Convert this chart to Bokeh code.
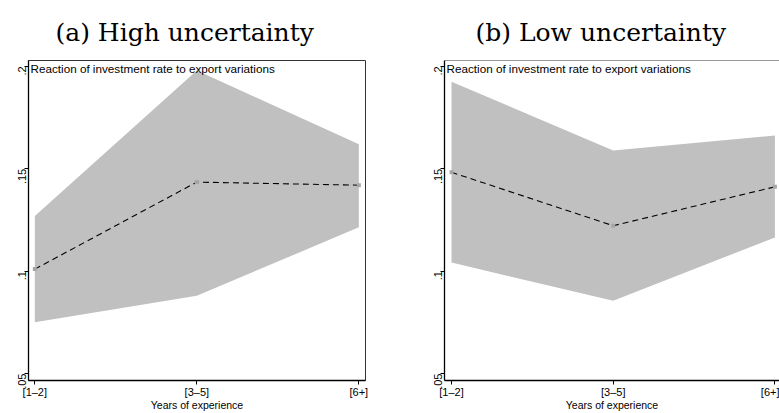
import math
from bokeh.plotting import figure
from bokeh.models import FixedTicker, Label, Span
from bokeh.layouts import row
from bokeh.embed import file_html
from bokeh.resources import INLINE

# ---- data ----
categories = ["[1–2]", "[3–5]", "[6+]"]
xpos = [1, 2, 3]
y_ticks = [0.05, 0.1, 0.15, 0.2]
y_tick_labels = [".05", ".1", ".15", ".2"]

high_mean = [0.101, 0.1435, 0.142]
high_upper = [0.127, 0.198, 0.162]
high_lower = [0.075, 0.088, 0.1214]

low_mean = [0.1483, 0.1222, 0.1412]
low_upper = [0.1925, 0.159, 0.1663]
low_lower = [0.1042, 0.0855, 0.1165]

panel_titles = ["(a) High uncertainty", "(b) Low uncertainty"]
inner_text = "Reaction of investment rate to export variations"
x_label = "Years of experience"

SANS = "Liberation Sans"
SERIF = "DejaVu Serif"
BAND = "#c0c0c0"
Y0, Y1 = 0.0466, 0.2029


def make_panel(title, mean, upper, lower, width, x_range, min_left, min_right, title_offset, outline):
    p = figure(width=width, height=413, x_range=x_range, y_range=(Y0, Y1),
               output_backend="svg", toolbar_location=None,
               min_border_left=min_left, min_border_right=min_right,
               min_border_top=60, min_border_bottom=27)
    p.title.text = title
    p.title.text_font = SERIF
    p.title.text_font_size = "25px"
    p.title.text_font_style = "normal"
    p.title.align = "left"
    p.title.offset = title_offset
    p.title.standoff = 27
    p.title.text_color = "black"

    p.grid.visible = False
    p.background_fill_color = "white"
    p.border_fill_color = "white"
    p.outline_line_color = outline
    p.outline_line_width = 1

    p.varea(x=xpos, y1=lower, y2=upper, fill_color=BAND, fill_alpha=1.0)
    p.line(x=xpos, y=mean, line_color="black", line_width=1.1, line_dash="6 4")
    p.scatter(x=xpos, y=mean, marker="square", size=4, fill_color="#a6a6a6",
              line_color=None)

    lab = Label(x=x_range[0], y=Y1, x_offset=2, y_offset=-1, text=inner_text,
                text_font=SANS, text_font_size="11.7px", text_baseline="top",
                text_color="black")
    p.add_layout(lab)

    for ax in (p.xaxis[0], p.yaxis[0]):
        ax.axis_line_color = "black"
        ax.axis_line_width = 1.3
        ax.major_tick_line_color = "black"
        ax.major_tick_out = 4
        ax.major_tick_in = 0
        ax.minor_tick_line_color = None
        ax.major_label_text_font = SANS
        ax.major_label_text_font_size = "11px"
        ax.major_label_text_color = "black"

    p.xaxis.ticker = FixedTicker(ticks=xpos)
    p.xaxis.major_label_overrides = {x: c for x, c in zip(xpos, categories)}
    p.xaxis.major_label_standoff = 1
    p.xaxis.axis_label = x_label
    p.xaxis.axis_label_text_font = SANS
    p.xaxis.axis_label_text_font_size = "10.5px"
    p.xaxis.axis_label_text_font_style = "normal"
    p.xaxis.axis_label_text_color = "black"
    p.xaxis.axis_label_standoff = -2

    p.yaxis.ticker = FixedTicker(ticks=y_ticks)
    p.yaxis.major_label_overrides = {t: l for t, l in zip(y_ticks, y_tick_labels)}
    p.yaxis.major_label_orientation = math.pi / 2
    p.yaxis.major_label_standoff = 2
    return p


p1 = make_panel(panel_titles[0], high_mean, high_upper, high_lower, 390,
                (0.961, 3.041), 28, 25, 27, "#333333")
p2 = make_panel(panel_titles[1], low_mean, low_upper, low_lower, 389,
                (0.9567, 3.0284), 54, 0, 31, None)
p2.add_layout(Span(location=Y1, dimension="width", line_color="#333333", line_width=1))

layout = row(p1, p2)
open("out.html", "w").write(file_html(layout, INLINE))
